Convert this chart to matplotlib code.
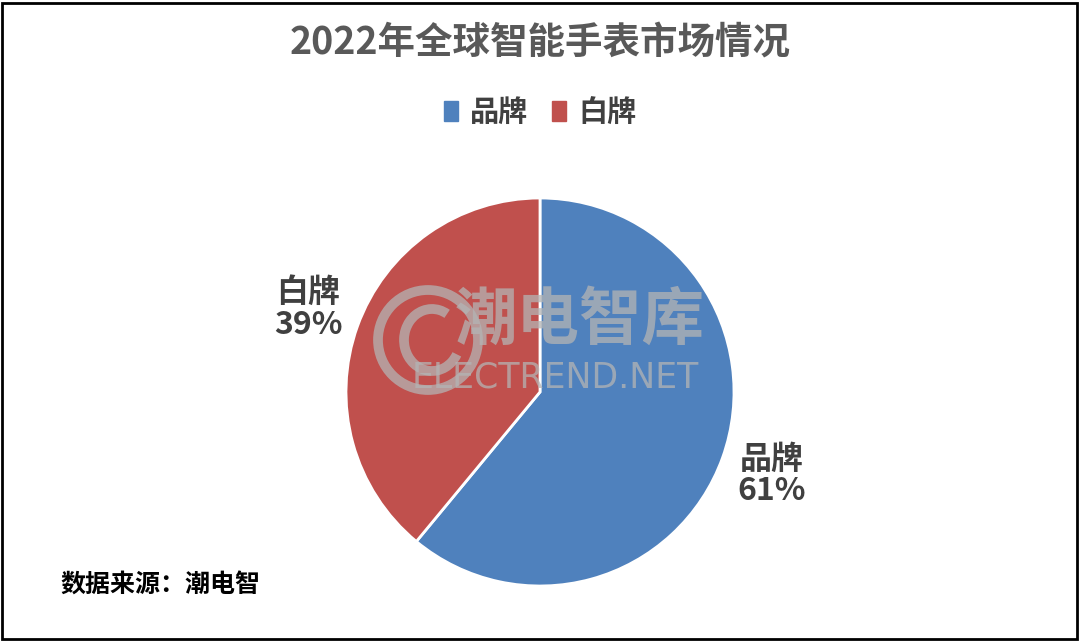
import matplotlib.pyplot as plt
import matplotlib.patches as mpatches

plt.rcParams['font.family'] = ['Noto Sans CJK SC', 'DejaVu Sans']

categories = ['品牌', '白牌']
shares = [61, 39]
colors = ['#4F81BD', '#C0504D']
title = '2022年全球智能手表市场情况'
source = '数据来源：潮电智'

W, H = 1080, 641
fig = plt.figure(figsize=(W / 100, H / 100), dpi=100)
ax = fig.add_axes([0, 0, 1, 1])

labels = ['%s\n%d%%' % (c, v) for c, v in zip(categories, shares)]
wedges, texts = ax.pie(shares, labels=labels, colors=colors, startangle=90,
                       counterclock=False, center=(540, H - 392), radius=194,
                       labeldistance=1.27, frame=True,
                       wedgeprops=dict(edgecolor='white', linewidth=2),
                       textprops=dict(fontsize=23, fontweight='bold', color='#404040',
                                      ha='center', va='center', multialignment='center',
                                      linespacing=1.0))
ax.set_xlim(0, W)
ax.set_ylim(0, H)
ax.set_aspect('equal')
ax.axis('off')

# watermark
wm = '#b4b4b4'
ax.text(580, H - 320, '潮电智库', fontsize=45, fontweight='bold', color=wm, alpha=0.75,
        ha='center', va='center')
ax.text(555, H - 378, 'ELECTREND.NET', fontsize=25, color=wm, alpha=0.75,
        ha='center', va='center', fontfamily='DejaVu Sans')
ax.add_patch(mpatches.Circle((428, H - 340), 50, fill=False, ec=wm, lw=7, alpha=0.75))
ax.add_patch(mpatches.Arc((432, H - 340), 56, 62, theta1=60, theta2=330, ec=wm, lw=7, alpha=0.75))

fig.text(0.5, 1 - 42 / H, title, fontsize=27, fontweight='bold', color='#595959',
         ha='center', va='center')

handles = [mpatches.Patch(color=c, label=l) for c, l in zip(colors, categories)]
fig.legend(handles=handles, loc='center', bbox_to_anchor=(0.5, 1 - 112 / H), ncol=2,
           frameon=False, handlelength=0.5, handleheight=0.7, handletextpad=0.4,
           columnspacing=0.8, prop=dict(size=21, weight='bold'), labelcolor='#404040')

fig.text(60 / W, 1 - 585 / H, source, fontsize=18, fontweight='bold', color='black',
         ha='left', va='center')

fig.patches.append(mpatches.Rectangle((2 / W, 2 / H), 1 - 5 / W, 1 - 5 / H,
                                      transform=fig.transFigure, fill=False,
                                      ec='black', lw=2))

fig.savefig('out.png', dpi=100)
